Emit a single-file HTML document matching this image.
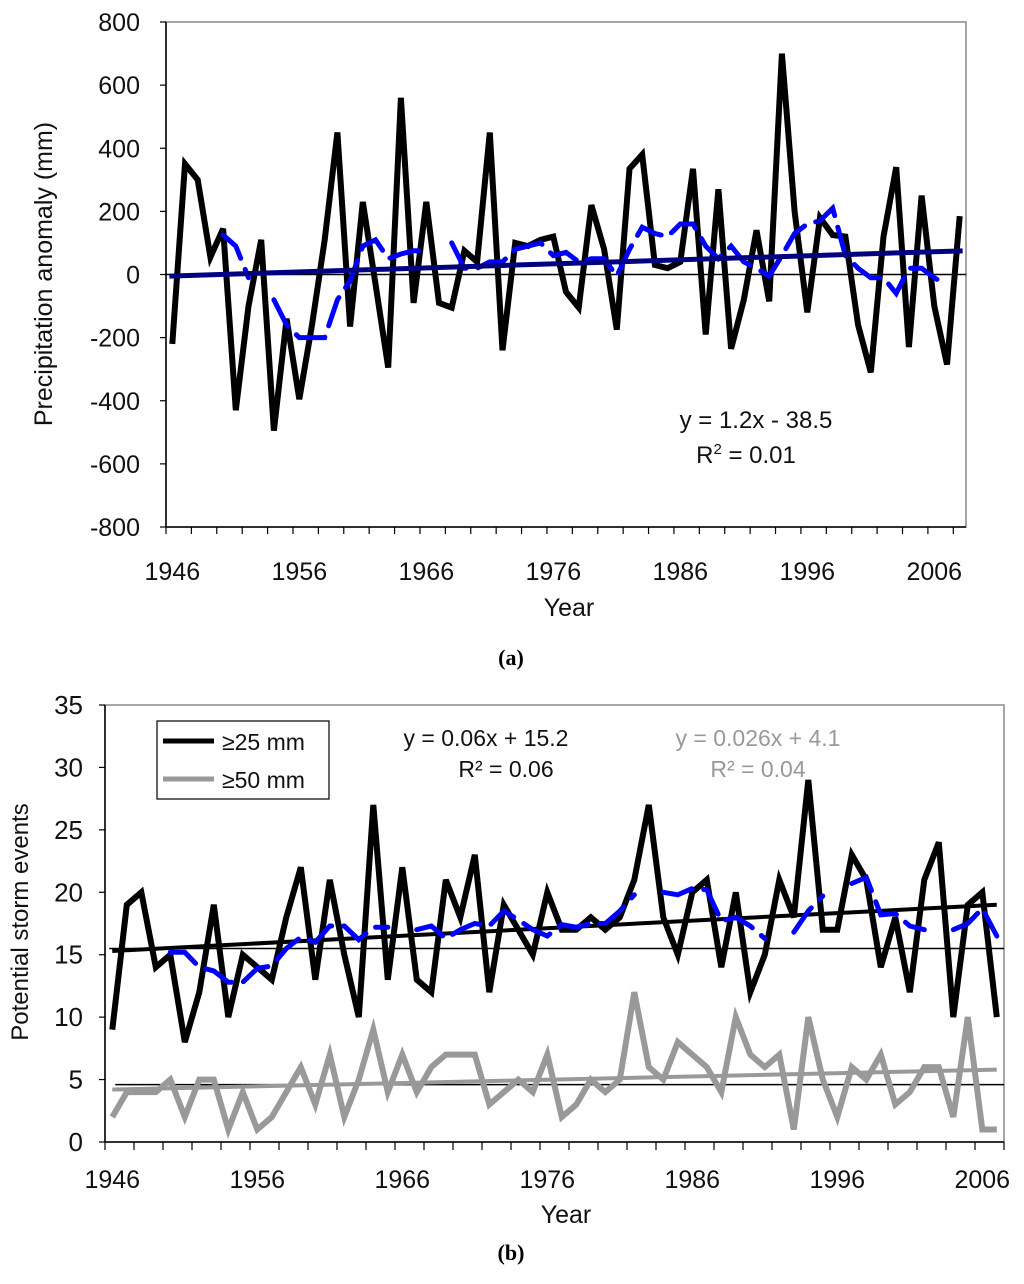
<!DOCTYPE html>
<html><head><meta charset="utf-8"><style>
body{margin:0;background:#fff;}
svg text{font-family:"Liberation Sans",sans-serif;}
</style></head><body>
<svg id="fig" width="1024" height="1279" viewBox="0 0 1024 1279" xmlns="http://www.w3.org/2000/svg">
<g id="ga"></g>
<g id="gb"></g>
<text x="511" y="665" font-weight="bold" font-size="22" text-anchor="middle" style="font-family:'Liberation Serif',serif">(a)</text>
<text x="511" y="1260" font-weight="bold" font-size="22" text-anchor="middle" style="font-family:'Liberation Serif',serif">(b)</text>
</svg>
<script>
// ---- Chart A data ----
const yearsA = [];
for (let y = 1946; y <= 2008; y++) yearsA.push(y);
const precipA = [-220,350,300,55,145,-430,-100,110,-495,-140,-395,-160,110,450,-165,230,-30,-295,560,-90,230,-90,-105,75,40,450,-240,100,90,110,120,-55,-105,220,80,-175,335,380,30,20,40,335,-190,270,-235,-80,140,-85,700,200,-120,180,125,120,-160,-310,120,340,-230,250,-100,-285,185];
const movAvgA = [null,null,null,null,125,90,-10,null,-80,-160,-200,-200,-200,-80,-20,90,110,50,65,75,75,null,100,20,20,40,40,80,90,100,60,70,40,50,50,-5,80,150,130,120,160,160,90,50,90,40,20,-5,60,130,160,170,210,60,20,-10,-10,-60,20,20,-10,-35,null];
const trendA = [-5, 75];
const yTicksA = [800,600,400,200,0,-200,-400,-600,-800];
const xLabelsA = [1946,1956,1966,1976,1986,1996,2006];

// ---- Chart B data ----
const yearsB = [];
for (let y = 1946; y <= 2007; y++) yearsB.push(y);
const events25 = [9,19,20,14,15,8,12,19,10,15,14,13,18,22,13,21,15,10,27,13,22,13,12,21,18,23,12,19,17,15,20,17,17,18,17,18,21,27,18,15,20,21,14,20,12,15,21,18,29,17,17,23,21,14,18,12,21,24,10,19,20,10];
const events50 = [2,4,4,4,5,2,5,5,1,4,1,2,4,6,3,7,2,5,9,4,7,4,6,7,7,7,3,4,5,4,7,2,3,5,4,5,12,6,5,8,7,6,4,10,7,6,7,1,10,5,2,6,5,7,3,4,6,6,2,10,1,1];
const movAvgB = [null,null,null,null,15.2,15.2,14,13.7,12.8,12.8,13.9,14.1,15.5,16.4,16,17.3,17.3,16.2,17.2,17.2,null,17,17.3,16.3,17,17.5,17.3,18.5,17.8,17,16.5,17.4,17.2,17.5,17.5,18.5,19.8,null,20,19.8,20.3,20.2,17.7,18,17.3,16.3,null,16.8,18.5,19.7,null,20.7,21.2,18.2,18.3,17.3,17,null,17,17.5,18.7,16.5];
const trend25 = [15.3, 19.0];
const trend50 = [4.2, 5.8];
const mean25 = [15.5];
const mean50 = [4.6];
const yTicksB = [35,30,25,20,15,10,5,0];
const xLabelsB = [1946,1956,1966,1976,1986,1996,2006];

const NS = "http://www.w3.org/2000/svg";
function mk(parent, tag, attrs, txt) {
  const e = document.createElementNS(NS, tag);
  for (const k in attrs) e.setAttribute(k, attrs[k]);
  if (txt !== undefined) e.textContent = txt;
  parent.appendChild(e);
  return e;
}
function pathFrom(xs, ys, xf, yf) {
  let d = "", pen = false;
  for (let i = 0; i < ys.length; i++) {
    if (ys[i] === null || ys[i] === undefined) { pen = false; continue; }
    d += (pen ? "L" : "M") + xf(xs[i]).toFixed(1) + "," + yf(ys[i]).toFixed(1);
    pen = true;
  }
  return d;
}

// ===== Chart A =====
(function () {
  const g = document.getElementById("ga");
  const L = 166, R = 966, T = 22, B = 527, n = yearsA.length;
  const cw = (R - L) / n;
  const x = yr => L + (yr - yearsA[0] + 0.5) * cw;
  const y = v => T + (800 - v) / 1600 * (B - T);
  const frame = mk(g, "rect", {x: L, y: T, width: R - L, height: B - T, fill: "none", stroke: "#888", "stroke-width": 1.5});
  
  
  const yax = mk(g, "line", {x1: L, y1: T, x2: L, y2: B, stroke: "#000", "stroke-width": 1.5});
  
  
  const xax = mk(g, "line", {x1: L, y1: B, x2: R, y2: B, stroke: "#000", "stroke-width": 1.5});
  
  
  yTicksA.forEach(t => {
    mk(g, "line", {x1: L - 6, y1: y(t), x2: L, y2: y(t), stroke: "#000", "stroke-width": 1.2});
    const lb = mk(g, "text", {x: L - 26, y: y(t) + 9, "font-size": 25, "text-anchor": "end", fill: "#111"}, t);
    
    
  });
  for (let i = 0; i <= n; i += 2) {
    mk(g, "line", {x1: L + i * cw, y1: B, x2: L + i * cw, y2: B + 7, stroke: "#000", "stroke-width": 1.2});
  }
  xLabelsA.forEach(t => {
    const lb = mk(g, "text", {x: x(t), y: B + 53, "font-size": 25, "text-anchor": "middle", fill: "#111"}, t);
    
    
  });
  const zl = mk(g, "line", {x1: L, y1: y(0), x2: R, y2: y(0), stroke: "#000", "stroke-width": 1.5});
  
  
  const ln = mk(g, "path", {d: pathFrom(yearsA, precipA, x, y), fill: "none", stroke: "#000", "stroke-width": 6, "stroke-linejoin": "miter"});
  
  
  const ma = mk(g, "path", {d: pathFrom(yearsA, movAvgA, x, y), fill: "none", stroke: "#0000ff", "stroke-width": 5, "stroke-dasharray": "30 12", "stroke-linecap": "round"});
  
  
  const tr = mk(g, "line", {x1: x(yearsA[0]) - 3, y1: y(trendA[0]), x2: x(yearsA[n - 1]) + 3, y2: y(trendA[1]), stroke: "#000080", "stroke-width": 5});
  
  
  const eq = mk(g, "text", {x: 756, y: 428, "font-size": 24, "text-anchor": "middle", fill: "#111"}, "y = 1.2x - 38.5");
  
  
  const r2 = mk(g, "text", {x: 746, y: 463, "font-size": 24, "text-anchor": "middle", fill: "#111"});
  
  
  r2.innerHTML = 'R<tspan font-size="15" dy="-9">2</tspan><tspan dy="9"> = 0.01</tspan>';
  const yt = mk(g, "text", {x: 0, y: 0, "font-size": 25, "text-anchor": "middle", fill: "#111", transform: "translate(52,274) rotate(-90)"}, "Precipitation anomaly (mm)");
  
  
  const xt = mk(g, "text", {x: 569, y: 616, "font-size": 25, "text-anchor": "middle", fill: "#111"}, "Year");
  
  
})();

// ===== Chart B =====
(function () {
  const g = document.getElementById("gb");
  const L = 105, R = 1004, T = 705, B = 1142, n = yearsB.length;
  const cw = (R - L) / n;
  const x = yr => L + (yr - yearsB[0] + 0.5) * cw;
  const y = v => B - v / 35 * (B - T);
  const frame = mk(g, "rect", {x: L, y: T, width: R - L, height: B - T, fill: "none", stroke: "#888", "stroke-width": 1.5});
  
  
  const yax = mk(g, "line", {x1: L, y1: T, x2: L, y2: B, stroke: "#000", "stroke-width": 1.5});
  
  
  const xax = mk(g, "line", {x1: L, y1: B, x2: R, y2: B, stroke: "#000", "stroke-width": 1.5});
  
  
  yTicksB.forEach(t => {
    mk(g, "line", {x1: L - 6, y1: y(t), x2: L, y2: y(t), stroke: "#000", "stroke-width": 1.2});
    const lb = mk(g, "text", {x: L - 22, y: y(t) + 9, "font-size": 26, "text-anchor": "end", fill: "#111"}, t);
    
    
  });
  for (let i = 0; i <= n; i += 2) {
    mk(g, "line", {x1: L + i * cw, y1: B, x2: L + i * cw, y2: B + 8, stroke: "#000", "stroke-width": 1.2});
  }
  xLabelsB.forEach(t => {
    const lb = mk(g, "text", {x: x(t), y: B + 46, "font-size": 25, "text-anchor": "middle", fill: "#111"}, t);
    
    
  });
  const m25 = mk(g, "line", {x1: x(yearsB[0]) - 3, y1: y(mean25[0]), x2: R, y2: y(mean25[0]), stroke: "#000", "stroke-width": 1.5});
  
  
  const m50 = mk(g, "line", {x1: x(yearsB[0]) + 3, y1: y(mean50[0]), x2: R, y2: y(mean50[0]), stroke: "#000", "stroke-width": 1.5});
  
  
  const l50 = mk(g, "path", {d: pathFrom(yearsB, events50, x, y), fill: "none", stroke: "#999", "stroke-width": 6});
  
  
  const t50 = mk(g, "line", {x1: x(yearsB[0]), y1: y(trend50[0]), x2: x(yearsB[n - 1]), y2: y(trend50[1]), stroke: "#999", "stroke-width": 4});
  
  
  const l25 = mk(g, "path", {d: pathFrom(yearsB, events25, x, y), fill: "none", stroke: "#000", "stroke-width": 6});
  
  
  const t25 = mk(g, "line", {x1: x(yearsB[0]), y1: y(trend25[0]), x2: x(yearsB[n - 1]), y2: y(trend25[1]), stroke: "#000", "stroke-width": 4});
  
  
  const ma = mk(g, "path", {d: pathFrom(yearsB, movAvgB, x, y), fill: "none", stroke: "#0000ff", "stroke-width": 5, "stroke-dasharray": "30 12", "stroke-linecap": "round"});
  
  
  // legend
  const lg = mk(g, "g", {});
  
  
  mk(lg, "rect", {x: 157, y: 721, width: 172, height: 78, fill: "#fff", stroke: "#000", "stroke-width": 1.2});
  mk(lg, "line", {x1: 163, y1: 741, x2: 214, y2: 741, stroke: "#000", "stroke-width": 5});
  const le1 = mk(lg, "text", {x: 222, y: 750, "font-size": 23, fill: "#111"}, "\u226525 mm");
  
  
  mk(lg, "line", {x1: 163, y1: 779, x2: 214, y2: 779, stroke: "#999", "stroke-width": 5});
  const le2 = mk(lg, "text", {x: 222, y: 788, "font-size": 23, fill: "#111"}, "\u226550 mm");
  
  
  const e1 = mk(g, "text", {x: 486, y: 746, "font-size": 23, "text-anchor": "middle", fill: "#111"}, "y = 0.06x + 15.2");
  
  
  const r1 = mk(g, "text", {x: 506, y: 777, "font-size": 23, "text-anchor": "middle", fill: "#111"}, "R\u00b2 = 0.06");
  
  
  const e2 = mk(g, "text", {x: 758, y: 746, "font-size": 23, "text-anchor": "middle", fill: "#999"}, "y = 0.026x + 4.1");
  
  
  const r2 = mk(g, "text", {x: 758, y: 777, "font-size": 23, "text-anchor": "middle", fill: "#999"}, "R\u00b2 = 0.04");
  
  
  const yt = mk(g, "text", {x: 0, y: 0, "font-size": 24, "text-anchor": "middle", fill: "#111", transform: "translate(28,922) rotate(-90)"}, "Potential storm events");
  
  
  const xt = mk(g, "text", {x: 566, y: 1223, "font-size": 25, "text-anchor": "middle", fill: "#111"}, "Year");
  
  
})();
</script>
</body></html>
